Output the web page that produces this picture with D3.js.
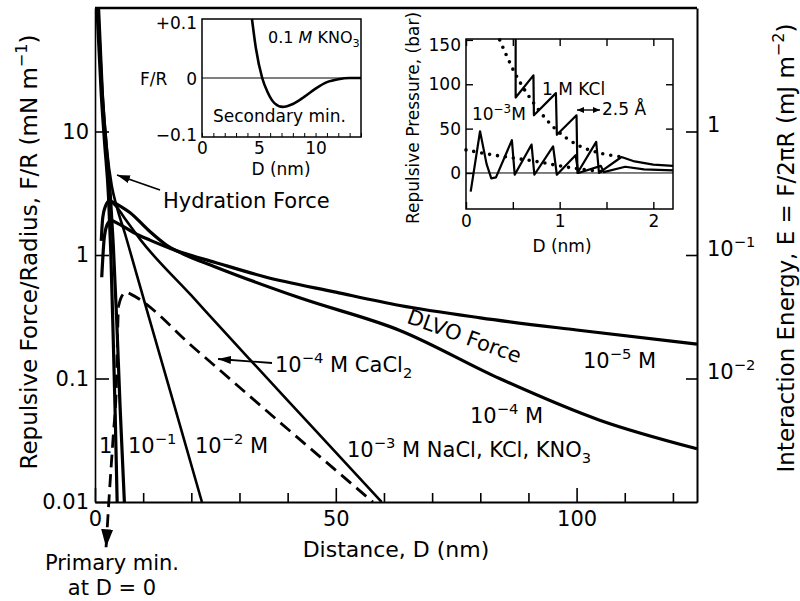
<!DOCTYPE html>
<html>
<head>
<meta charset="utf-8">
<script src="https://cdn.jsdelivr.net/npm/d3@7"></script>
<style>
  body { margin: 0; background: #fff; }
  svg text { font-family: "DejaVu Sans", sans-serif; fill: #000; }
</style>
</head>
<body>
<script>
// ---- main panel: F/R (mN/m) vs D (nm) ----
// short range (hydration) curves
const hyd1M   = [[0.4,100],[1.3,20],[2.0,8],[2.8,3],[3.3,1],[3.8,0.2],[4.2,0.05],[4.6,0.01]];
const hyd01M  = [[0.6,100],[1.5,20],[2.3,8],[3.2,3],[3.8,1.2],[4.5,0.3],[5.2,0.06],[6.1,0.01]];
const hyd001M = [[0.8,100],[1.6,20],[2.5,7],[3.5,3.6],[4.6,2.4],[6.2,1.5],[8.5,0.73],[10.8,0.355],[16,0.07],[22.2,0.01]];
// DLVO curves
const dlvo1e3 = [[3.2,2.75],[4.5,2.45],[6.5,1.9],[9.5,1.32],[20,0.47],[31.5,0.152],[45,0.041],[59.5,0.01]];
const dlvo1e4 = [[1.3,1.3],[1.6,2.0],[2.2,2.5],[3.0,2.75],[4.0,2.65],[5.5,2.45],[7.3,2.2],[11,1.6],[14.9,1.2],[17.6,1.05],[25,0.8],[42.5,0.45],[63.3,0.245],[84,0.1],[104.8,0.046],[125,0.027]];
const dlvo1e5 = [[1.4,0.66],[1.9,1.35],[2.5,1.75],[3.3,1.9],[5,1.78],[8,1.52],[11.4,1.32],[17,1.08],[25,0.87],[35,0.67],[50,0.5],[63.3,0.39],[80,0.31],[100,0.247],[125,0.19]];
const cacl2   = [[4.85,0.38],[5.4,0.45],[6.5,0.5],[7.5,0.48],[20.7,0.175],[40,0.039],[57.7,0.01]];
const primaryMin = [[2.3,0.0043],[3.0,0.012],[3.8,0.035],[4.45,0.09],[4.65,0.2],[4.85,0.38]];

const forceTicks = [0.01, 0.1, 1, 10];
const energyTicks = [0.01, 0.1, 1];
const distMajor = [0, 50, 100];
const distMinor = [10, 20, 30, 40, 60, 70, 80, 90, 110, 120];

// ---- inset 1: secondary minimum, 0.1 M KNO3 ----
const kno3 = [[4.4,0.1],[4.75,0.05],[5.3,0],[5.8,-0.025],[6.4,-0.043],[7.1,-0.049],[8,-0.044],[9,-0.032],[10,-0.018],[11,-0.007],[12,-0.002],[13,0],[14,0]];
const inset1DTicks = d3.range(0, 15);
const inset1DLabels = [0, 5, 10];
const inset1FTicks = [-0.1, 0, 0.1];

// ---- inset 2: oscillatory pressure (bar) vs D (nm) ----
const sawKCl = [[0.53,151],[0.53,85],[0.72,110],[0.725,65],[0.96,90],[0.97,43],[1.18,65],[1.19,0],[1.39,35],[1.42,0],[1.66,18],[1.8,13],[2.0,9.5],[2.21,8]];
const saw1e3 = [[0.05,-21],[0.15,47],[0.22,10],[0.27,-6],[0.32,-5],[0.49,37],[0.52,-2],[0.70,32],[0.73,-2],[0.93,30],[0.97,-2],[1.17,20],[1.2,0],[1.44,8],[1.47,1],[1.7,7],[1.9,4],[2.21,3]];
const dotKCl = [[0.36,150],[0.52,113],[0.7,82],[0.95,50],[1.2,31],[1.45,22],[1.67,18]];
const dot1e3 = [[0,26],[0.25,21],[0.5,17],[0.75,13],[1.0,8],[1.25,4],[1.5,1]];
const inset2DTicks = [0, 0.5, 1, 1.5, 2];
const inset2PTicks = [0, 50, 100, 150];

const svg = d3.select("body").append("svg").attr("width", 800).attr("height", 601);

// superscript/subscript/italic pieces inside one text
function rich(sel, parts, size) {
  let shift = 0;
  parts.forEach(p => {
    const t = typeof p === "string" ? p : p[0];
    const k = typeof p === "string" ? "" : p[1];
    const target = k === "sup" ? -0.42 * size : k === "sub" ? 0.28 * size : 0;
    const ts = sel.append("tspan").attr("dy", target - shift).text(t);
    if (k === "sup" || k === "sub") ts.style("font-size", (0.7 * size) + "px");
    if (k === "it") ts.style("font-style", "italic");
    shift = target;
  });
  return sel;
}
function label(x, y, parts, size, anchor) {
  const t = svg.append("text").attr("x", x).attr("y", y)
    .style("font-size", size + "px").attr("text-anchor", anchor || "start");
  return rich(t, parts, size);
}

const defs = svg.append("defs");
defs.append("marker").attr("id", "head").attr("markerUnits", "userSpaceOnUse")
  .attr("viewBox", "0 0 13 8").attr("markerWidth", 13).attr("markerHeight", 8)
  .attr("refX", 13).attr("refY", 4).attr("orient", "auto")
  .append("path").attr("d", "M0,0L13,4L0,8z").attr("fill", "#000");
defs.append("marker").attr("id", "bighead").attr("markerUnits", "userSpaceOnUse")
  .attr("viewBox", "0 0 18 12").attr("markerWidth", 18).attr("markerHeight", 12)
  .attr("refX", 18).attr("refY", 6).attr("orient", "auto-start-reverse")
  .append("path").attr("d", "M0,0L18,6L0,12z").attr("fill", "#000");
defs.append("marker").attr("id", "small").attr("markerUnits", "userSpaceOnUse")
  .attr("viewBox", "0 0 7 6").attr("markerWidth", 7).attr("markerHeight", 6)
  .attr("refX", 7).attr("refY", 3).attr("orient", "auto-start-reverse")
  .append("path").attr("d", "M0,0L7,3L0,6z").attr("fill", "#000");

// ================= main panel =================
const x = d3.scaleLinear().domain([0, 125]).range([95, 697]);
const y = d3.scaleLog().domain([0.01, 100]).range([502, 8]);
const yE = d3.scaleLog().domain([0.001, 10]).range([502, 8]);

const gL = svg.append("g").attr("transform", `translate(${x(0)},0)`)
  .call(d3.axisLeft(y).tickValues(forceTicks).tickSizeInner(-14).tickSizeOuter(0).tickPadding(6).tickFormat(d => String(d)));
const gB = svg.append("g").attr("transform", `translate(0,${y(0.01)})`)
  .call(d3.axisBottom(x).tickValues(distMajor).tickSizeInner(-14).tickSizeOuter(0).tickPadding(9));
svg.append("g").attr("transform", `translate(0,${y(0.01)})`)
  .call(d3.axisBottom(x).tickValues(distMinor).tickSizeInner(-9).tickSizeOuter(0).tickFormat(""));
const gR = svg.append("g").attr("transform", `translate(${x(125)},0)`)
  .call(d3.axisRight(yE).tickValues(energyTicks).tickSizeInner(-11).tickSizeOuter(0).tickFormat(""));
gR.selectAll(".tick").each(function (d) {
  const t = d3.select(this).append("text").attr("x", 10).attr("dy", "0.36em").style("font-size", "21px");
  const e = Math.round(Math.log10(d));
  rich(t, e === 0 ? ["1"] : ["10", ["−" + (-e), "sup"]], 21);
});
svg.selectAll(".tick text").style("font-size", "21px");
svg.append("line").attr("x1", x(0)).attr("x2", x(125)).attr("y1", y(100)).attr("y2", y(100))
  .attr("stroke", "#000").attr("stroke-width", 2.6);
gL.select(".domain").attr("stroke-width", 1.6);
gB.select(".domain").attr("stroke-width", 2);
gR.select(".domain").attr("stroke-width", 2);
svg.selectAll(".tick line").attr("stroke-width", 1.6);

const line = d3.line().x(d => x(d[0])).y(d => y(d[1])).curve(d3.curveMonotoneX);
const solid = [[hyd1M, 3.2], [hyd01M, 3.2], [hyd001M, 2.6], [dlvo1e3, 2.6], [dlvo1e4, 3.2], [dlvo1e5, 3.2]];
solid.forEach(([data, w]) => {
  svg.append("path").datum(data).attr("d", line)
    .attr("fill", "none").attr("stroke", "#000").attr("stroke-width", w).attr("stroke-linejoin", "round");
});
svg.append("path").datum(cacl2).attr("d", line).attr("fill", "none").attr("stroke", "#000")
  .attr("stroke-width", 2.8).attr("stroke-dasharray", "13,7");
svg.append("path").datum(primaryMin).attr("d", line).attr("fill", "none").attr("stroke", "#000")
  .attr("stroke-width", 2.8).attr("stroke-dasharray", "13,7").attr("marker-start", "url(#bighead)");

// axis titles
svg.append("text").attr("transform", "translate(37,252) rotate(-90)").attr("text-anchor", "middle")
  .style("font-size", "23px").call(t => rich(t, ["Repulsive Force/Radius, F/R (mN m", ["−1", "sup"], ")"], 23));
svg.append("text").attr("transform", "translate(794,248) rotate(-90)").attr("text-anchor", "middle")
  .style("font-size", "23px").call(t => rich(t, ["Interaction Energy, E = F/2πR (mJ m", ["−2", "sup"], ")"], 23));
label(396, 557, ["Distance, D (nm)"], 22, "middle");

// curve labels
label(163, 208, ["Hydration Force"], 21);
svg.append("path").attr("d", "M160,190L117,175").attr("stroke", "#000").attr("stroke-width", 1.8).attr("marker-end", "url(#head)");
svg.append("text").attr("transform", "translate(462,343) rotate(20)").attr("text-anchor", "middle")
  .style("font-size", "21px").text("DLVO Force");
label(583, 368, ["10", ["−5", "sup"], " M"], 21);
label(470, 423, ["10", ["−4", "sup"], " M"], 21);
label(347, 457, ["10", ["−3", "sup"], " M NaCl, KCl, KNO", ["3", "sub"]], 21);
label(195, 453, ["10", ["−2", "sup"], " M"], 21);
label(128, 453, ["10", ["−1", "sup"]], 21);
label(99, 453, ["1"], 21);
label(275, 372, ["10", ["−4", "sup"], " M CaCl", ["2", "sub"]], 21);
svg.append("path").attr("d", "M272,363L218,359").attr("stroke", "#000").attr("stroke-width", 1.8).attr("marker-end", "url(#head)");
label(112, 570, ["Primary min."], 21, "middle");
label(112, 595, ["at D = 0"], 21, "middle");

// ================= inset 1 =================
const x1 = d3.scaleLinear().domain([0, 14]).range([202, 361]);
const y1 = d3.scaleLinear().domain([-0.1, 0.1]).range([137, 19]);
svg.append("rect").attr("x", x1(0)).attr("y", y1(0.1)).attr("width", x1(14) - x1(0)).attr("height", y1(-0.1) - y1(0.1))
  .attr("fill", "#fff").attr("stroke", "#000").attr("stroke-width", 1.5);
const i1b = svg.append("g").attr("transform", `translate(0,${y1(-0.1)})`)
  .call(d3.axisBottom(x1).tickValues(inset1DTicks).tickSizeInner(-4).tickSizeOuter(0).tickPadding(5)
    .tickFormat(d => inset1DLabels.includes(d) ? d : ""));
i1b.select(".domain").remove();
const i1l = svg.append("g").attr("transform", `translate(${x1(0)},0)`)
  .call(d3.axisLeft(y1).tickValues(inset1FTicks).tickSize(0).tickPadding(5)
    .tickFormat(d => d > 0 ? "+0.1" : d < 0 ? "−0.1" : "0"));
i1l.select(".domain").remove();
i1l.selectAll(".tick text").attr("dy", d => d > 0 ? "0.55em" : d < 0 ? "0.18em" : "0.4em");
svg.append("line").attr("x1", x1(0)).attr("x2", x1(14)).attr("y1", y1(0)).attr("y2", y1(0)).attr("stroke", "#000").attr("stroke-width", 1);
const line1 = d3.line().x(d => x1(d[0])).y(d => y1(d[1])).curve(d3.curveMonotoneX);
svg.append("path").datum(kno3).attr("d", line1).attr("fill", "none").attr("stroke", "#000").attr("stroke-width", 2.6);
[i1b, i1l].forEach(g => g.selectAll("text").style("font-size", "17px"));
label(140, 85, ["F/R"], 17);
label(268, 43, ["0.1 ", ["M", "it"], " KNO", ["3", "sub"]], 16);
label(213, 122, ["Secondary min."], 17);
label(281, 175, ["D (nm)"], 17, "middle");

// ================= inset 2 =================
const x2 = d3.scaleLinear().domain([0, 2.21]).range([466, 673]);
const y2 = d3.scaleLinear().domain([-40.6, 151]).range([209, 39]);
svg.append("rect").attr("x", x2(0)).attr("y", y2(151)).attr("width", x2(2.21) - x2(0)).attr("height", y2(-40.6) - y2(151))
  .attr("fill", "#fff").attr("stroke", "#000").attr("stroke-width", 1.5);
const i2b = svg.append("g").attr("transform", `translate(0,${y2(-40.6)})`)
  .call(d3.axisBottom(x2).tickValues(inset2DTicks).tickSizeInner(-7).tickSizeOuter(0).tickPadding(6)
    .tickFormat(d => Number.isInteger(d) ? d : ""));
const i2t = svg.append("g").attr("transform", `translate(0,${y2(151)})`)
  .call(d3.axisTop(x2).tickValues(inset2DTicks).tickSizeInner(-7).tickSizeOuter(0).tickFormat(""));
const i2l = svg.append("g").attr("transform", `translate(${x2(0)},0)`)
  .call(d3.axisLeft(y2).tickValues(inset2PTicks).tickSizeInner(-7).tickSizeOuter(0).tickPadding(5));
const i2r = svg.append("g").attr("transform", `translate(${x2(2.21)},0)`)
  .call(d3.axisRight(y2).tickValues([50, 100]).tickSizeInner(-7).tickSizeOuter(0).tickFormat(""));
[i2b, i2t, i2l, i2r].forEach(g => { g.select(".domain").remove(); g.selectAll("text").style("font-size", "17px"); g.selectAll("line").attr("stroke-width", 1.4); });
i2l.selectAll(".tick text").filter(d => d === 150).attr("dy", "0.6em");
svg.append("line").attr("x1", x2(0)).attr("x2", x2(2.21)).attr("y1", y2(0)).attr("y2", y2(0)).attr("stroke", "#000").attr("stroke-width", 1);
const line2 = d3.line().x(d => x2(d[0])).y(d => y2(d[1]));
[sawKCl, saw1e3].forEach(data => {
  svg.append("path").datum(data).attr("d", line2).attr("fill", "none").attr("stroke", "#000")
    .attr("stroke-width", 2.2).attr("stroke-linejoin", "round");
});
const dotLine = d3.line().x(d => x2(d[0])).y(d => y2(d[1])).curve(d3.curveCatmullRom);
[dotKCl, dot1e3].forEach(data => {
  svg.append("path").datum(data).attr("d", dotLine).attr("fill", "none").attr("stroke", "#000")
    .attr("stroke-width", 3.6).attr("stroke-linecap", "round").attr("stroke-dasharray", "0,8");
});
svg.append("text").attr("transform", "translate(419,118) rotate(-90)").attr("text-anchor", "middle")
  .style("font-size", "17px").text("Repulsive Pressure, (bar)");
label(562, 252, ["D (nm)"], 17, "middle");
label(542, 95, ["1 M KCl"], 17);
label(472, 120, ["10", ["−3", "sup"], "M"], 17);
svg.append("path").attr("d", "M577,110L600,110").attr("stroke", "#000").attr("stroke-width", 1.4)
  .attr("marker-start", "url(#small)").attr("marker-end", "url(#small)");
label(602, 115, ["2.5 Å"], 17);
</script>
</body>
</html>
